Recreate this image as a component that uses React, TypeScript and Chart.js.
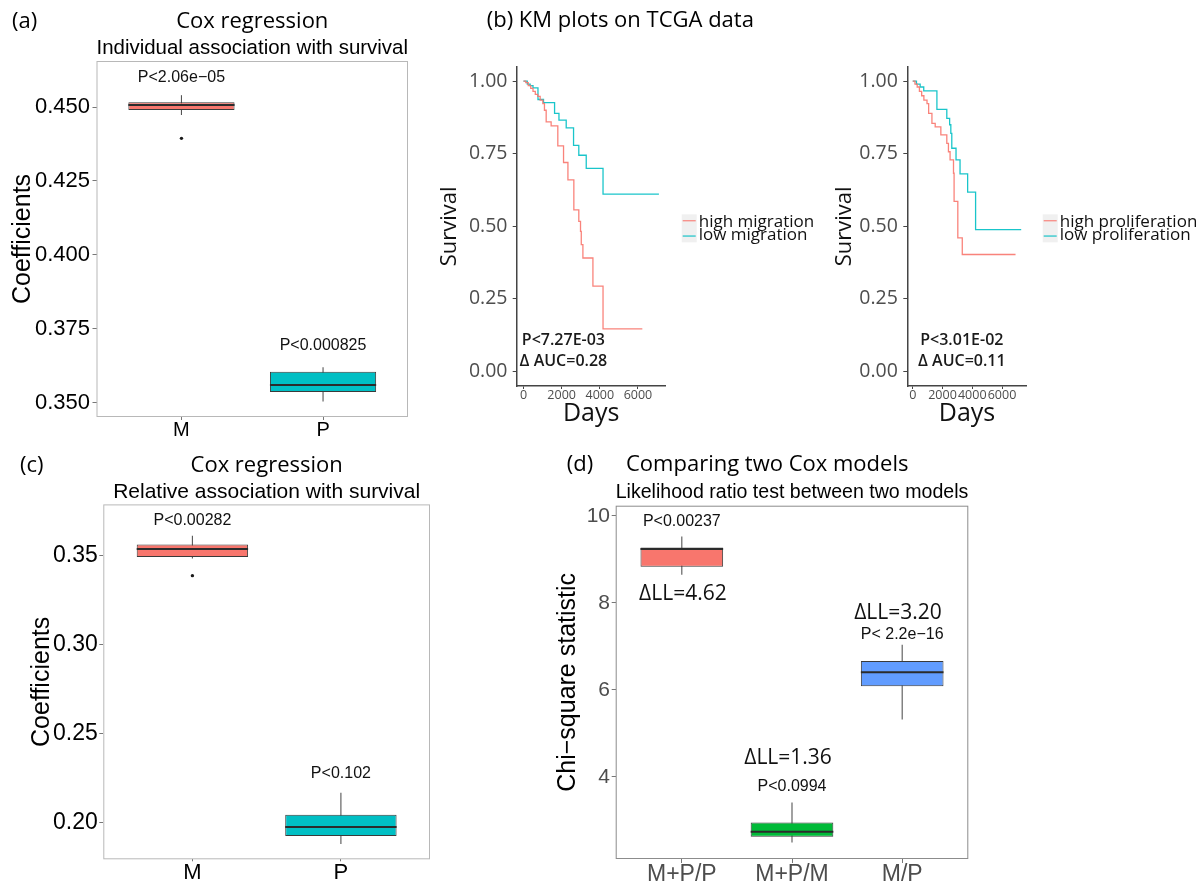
import React, { useEffect, useRef } from "react";
import { Chart, registerables } from "chart.js";

Chart.register(...registerables);

const SANS = "'Liberation Sans', Arial, sans-serif";
const HUMAN = "'Open Sans', 'Noto Sans', sans-serif";

const RED = "#F8766D";
const TEAL = "#00BFC4";
const GREEN = "#00BA38";
const BLUE = "#619CFF";

// ---------------- (a) Cox regression: individual association ----------------
const aCategories = ["M", "P"];
const aQ1 = [0.449, 0.3536];
const aMedian = [0.4507, 0.356];
const aQ3 = [0.4516, 0.3605];
const aWhiskerLow = [0.4473, 0.3504];
const aWhiskerHigh = [0.454, 0.362];
const aOutlierCat = ["M"];
const aOutlierVal = [0.4394];
const aYTicks = [0.35, 0.375, 0.4, 0.425, 0.45];
const aPText = ["P<2.06e\u221205", "P<0.000825"];
const aPY = [0.4584, 0.3678];

// ---------------- (c) Cox regression: relative association ----------------
const cCategories = ["M", "P"];
const cQ1 = [0.3493, 0.1923];
const cMedian = [0.3538, 0.1974];
const cQ3 = [0.3564, 0.2043];
const cWhiskerLow = [0.3485, 0.1878];
const cWhiskerHigh = [0.3612, 0.2167];
const cOutlierCat = ["M"];
const cOutlierVal = [0.3388];
const cYTicks = [0.2, 0.25, 0.3, 0.35];
const cPText = ["P<0.00282", "P<0.102"];
const cPY = [0.3673, 0.2249];

// ---------------- (d) Comparing two Cox models ----------------
const dCategories = ["M+P/P", "M+P/M", "M/P"];
const dQ1 = [8.83, 2.622, 6.085];
const dMedian = [9.243, 2.737, 6.406];
const dQ3 = [9.273, 2.952, 6.667];
const dWhiskerLow = [8.647, 2.493, 5.32];
const dWhiskerHigh = [9.525, 3.41, 7.04];
const dYTicks = [4, 6, 8, 10];
const dPText = ["P<0.00237", "P<0.0994", "P< 2.2e\u221216"];
const dPY = [9.77, 3.677, 7.179];
const dLLText = ["\u0394LL=4.62", "\u0394LL=1.36", "\u0394LL=3.20"];
const dLLX = [1.01, 1.964, 2.962];
const dLLY = [8.073, 4.289, 7.638];

// ---------------- (b) KM curves ----------------
const kmYTicks = [0, 0.25, 0.5, 0.75, 1];
const kmXTicks = [0, 2000, 4000, 6000];

const highMigT = [0, 120, 250, 380, 500, 620, 750, 875, 1015, 1100, 1190, 1450, 1800, 2100, 2330, 2640, 2900, 2990, 3030, 3115, 3640, 4170, 6230];
const highMigS = [1.0, 0.995, 0.985, 0.975, 0.965, 0.955, 0.948, 0.935, 0.923, 0.9, 0.86, 0.846, 0.777, 0.72, 0.66, 0.557, 0.517, 0.483, 0.437, 0.391, 0.294, 0.147, 0.147];
const lowMigT = [0, 200, 350, 500, 760, 1050, 1630, 1860, 2240, 2625, 2900, 3290, 4170, 7100];
const lowMigS = [1.0, 0.99, 0.985, 0.977, 0.937, 0.926, 0.889, 0.866, 0.839, 0.779, 0.745, 0.7, 0.611, 0.611];
const migAnnText = ["P<7.27E-03", "\u0394 AUC=0.28"];
const migAnnX = [2094, 2094];
const migAnnY = [0.09, 0.019];

const highProT = [0, 150, 300, 450, 600, 750, 960, 1070, 1290, 1510, 1890, 2290, 2400, 2510, 2740, 2780, 3030, 3330, 6910];
const highProS = [1.0, 0.99, 0.98, 0.965, 0.95, 0.935, 0.923, 0.889, 0.855, 0.843, 0.815, 0.786, 0.757, 0.729, 0.683, 0.586, 0.46, 0.403, 0.403];
const lowProT = [0, 250, 500, 740, 1625, 2290, 2480, 2560, 2625, 2910, 3180, 3690, 4225, 7290];
const lowProS = [1.0, 0.99, 0.98, 0.967, 0.903, 0.872, 0.85, 0.82, 0.769, 0.729, 0.681, 0.618, 0.489, 0.489];
const proAnnText = ["P<3.01E-02", "\u0394 AUC=0.11"];
const proAnnX = [3300, 3300];
const proAnnY = [0.09, 0.019];

// ---------------- helpers ----------------
type Ann = { text: string; x: number; y: number; font: string };
type Header = { text: string; x: number; y: number; font: string };

function headerPlugin(items: Header[]) {
  return {
    id: "headers",
    afterDraw(chart: any) {
      const ctx = chart.ctx;
      ctx.save();
      ctx.fillStyle = "#000";
      ctx.textAlign = "left";
      ctx.textBaseline = "alphabetic";
      items.forEach((it) => {
        ctx.font = it.font;
        ctx.fillText(it.text, it.x, it.y);
      });
      ctx.restore();
    },
  };
}

interface BoxSpec {
  categories: string[];
  q1: number[];
  median: number[];
  q3: number[];
  lo: number[];
  hi: number[];
  colors: string[];
  outCat: string[];
  outVal: number[];
  yMin: number;
  yMax: number;
  yTicks: number[];
  yDecimals: number;
  yTitle: string;
  yTitleSize: number;
  yTitlePad: number;
  yTickSize: number;
  yTickLen: number;
  yTickPad: number;
  yWidth: number;
  xTickSize: number;
  xTickLen: number;
  xTickPad: number;
  xHeight: number;
  tickColor: string;
  title?: string;
  titlePad?: any;
  subtitle: string;
  subtitleSize: number;
  subtitlePad: any;
  padding: any;
  frameColor: string;
  ann: Ann[];
  headers: Header[];
}

function makeBoxConfig(s: BoxSpec): any {
  const pos = s.categories.map((_, i) => i + 1);
  const extras = {
    id: "boxExtras",
    beforeDatasetsDraw(chart: any) {
      const { ctx } = chart;
      const x = chart.scales.x;
      const y = chart.scales.y;
      ctx.save();
      ctx.strokeStyle = "#555";
      ctx.lineWidth = 1.1;
      pos.forEach((p, i) => {
        const px = x.getPixelForValue(p);
        ctx.beginPath();
        ctx.moveTo(px, y.getPixelForValue(s.lo[i]));
        ctx.lineTo(px, y.getPixelForValue(s.hi[i]));
        ctx.stroke();
      });
      ctx.restore();
    },
    afterDatasetsDraw(chart: any) {
      const { ctx, chartArea: ca } = chart;
      const x = chart.scales.x;
      const y = chart.scales.y;
      ctx.save();
      const meta = chart.getDatasetMeta(0);
      meta.data.forEach((el: any, i: number) => {
        const { x: cx, width: w } = el.getProps(["x", "width"], true);
        const py = y.getPixelForValue(s.median[i]);
        ctx.strokeStyle = "#2b2b2b";
        ctx.lineWidth = 2;
        ctx.beginPath();
        ctx.moveTo(cx - w / 2, py);
        ctx.lineTo(cx + w / 2, py);
        ctx.stroke();
      });
      ctx.fillStyle = "#111";
      ctx.textAlign = "center";
      ctx.textBaseline = "alphabetic";
      s.ann.forEach((a) => {
        ctx.font = a.font;
        ctx.fillText(a.text, x.getPixelForValue(a.x), y.getPixelForValue(a.y));
      });
      ctx.strokeStyle = s.frameColor;
      ctx.lineWidth = 1;
      ctx.strokeRect(ca.left + 0.5, ca.top + 0.5, ca.right - ca.left - 1, ca.bottom - ca.top - 1);
      ctx.restore();
    },
  };

  return {
    type: "bar",
    data: {
      datasets: [
        {
          type: "bar",
          data: pos.map((p, i) => ({ x: p, y: [s.q1[i], s.q3[i]] })),
          backgroundColor: s.colors,
          borderColor: "#3a3a3a",
          borderWidth: 1,
          borderSkipped: false,
          categoryPercentage: 0.75,
          barPercentage: 1,
          order: 2,
        },
        {
          type: "scatter",
          data: s.outCat.map((c, i) => ({ x: s.categories.indexOf(c) + 1, y: s.outVal[i] })),
          pointRadius: 1.7,
          pointBackgroundColor: "#1a1a1a",
          pointBorderWidth: 0,
          order: 1,
        },
      ],
    },
    options: {
      responsive: false,
      animation: false,
      devicePixelRatio: 1,
      layout: { padding: s.padding },
      plugins: {
        legend: { display: false },
        tooltip: { enabled: false },
        title: {
          display: !!s.title,
          text: s.title || "",
          fullSize: false,
          color: "#000",
          font: { family: HUMAN, size: 22, weight: "normal" },
          padding: s.titlePad || 0,
        },
        subtitle: {
          display: true,
          text: s.subtitle,
          fullSize: false,
          color: "#000",
          font: { family: SANS, size: s.subtitleSize, weight: "normal" },
          padding: s.subtitlePad,
        },
      },
      scales: {
        x: {
          type: "linear",
          min: 0.4,
          max: s.categories.length + 0.6,
          offset: false,
          afterBuildTicks: (sc: any) => {
            sc.ticks = pos.map((v) => ({ value: v }));
          },
          afterFit: (sc: any) => {
            sc.height = s.xHeight;
          },
          ticks: {
            callback: (_v: any, i: number) => s.categories[i],
            color: s.tickColor,
            font: { family: SANS, size: s.xTickSize },
            padding: s.xTickPad,
            autoSkip: false,
            maxRotation: 0,
          },
          grid: { offset: false, drawOnChartArea: false, drawTicks: true, tickLength: s.xTickLen, color: "#777" },
          border: { display: false },
        },
        y: {
          type: "linear",
          min: s.yMin,
          max: s.yMax,
          afterBuildTicks: (sc: any) => {
            sc.ticks = s.yTicks.map((v) => ({ value: v }));
          },
          afterFit: (sc: any) => {
            sc.width = s.yWidth;
          },
          ticks: {
            callback: (v: any) => Number(v).toFixed(s.yDecimals),
            color: s.tickColor,
            font: { family: SANS, size: s.yTickSize },
            padding: s.yTickPad,
            autoSkip: false,
          },
          grid: { drawOnChartArea: false, drawTicks: true, tickLength: s.yTickLen, color: "#777" },
          border: { display: false },
          title: {
            display: true,
            text: s.yTitle,
            color: "#000",
            font: { family: SANS, size: s.yTitleSize },
            padding: { top: s.yTitlePad, bottom: 0 },
          },
        },
      },
    },
    plugins: [extras, headerPlugin(s.headers)],
  };
}

interface KMSpec {
  series: { label: string; t: number[]; s: number[]; color: string }[];
  xMin: number;
  xMax: number;
  padRight: number;
  yWidth: number;
  yTitlePad: number;
  yTickPad: number;
  ann: Ann[];
  headers: Header[];
}

function makeKMConfig(k: KMSpec): any {
  const extras = {
    id: "kmExtras",
    afterDraw(chart: any) {
      const { ctx, chartArea: ca } = chart;
      const x = chart.scales.x;
      const y = chart.scales.y;
      ctx.save();
      ctx.fillStyle = "#1a1a1a";
      ctx.textAlign = "center";
      ctx.textBaseline = "alphabetic";
      k.ann.forEach((a) => {
        ctx.font = a.font;
        ctx.fillText(a.text, x.getPixelForValue(a.x), y.getPixelForValue(a.y));
      });
      // legend
      const mid = (ca.top + ca.bottom) / 2;
      const kx = ca.right + 16;
      ctx.fillStyle = "#f0f0f0";
      ctx.fillRect(kx, mid - 12, 15, 28);
      k.series.forEach((ser, i) => {
        const ly = mid - 5.6 + i * 15.3;
        ctx.strokeStyle = ser.color;
        ctx.lineWidth = 1.2;
        ctx.beginPath();
        ctx.moveTo(kx + 1, ly);
        ctx.lineTo(kx + 14, ly);
        ctx.stroke();
      });
      ctx.fillStyle = "#111";
      ctx.textAlign = "left";
      ctx.font = `normal 17px ${HUMAN}`;
      k.series.forEach((ser, i) => {
        ctx.fillText(ser.label, kx + 17, mid + 0.4 + i * 13.3);
      });
      ctx.restore();
    },
  };
  return {
    type: "line",
    data: {
      datasets: k.series.map((ser) => ({
        label: ser.label,
        data: ser.t.map((t, i) => ({ x: t, y: ser.s[i] })),
        borderColor: ser.color,
        borderWidth: 1.3,
        stepped: true,
        pointRadius: 0,
        fill: false,
      })),
    },
    options: {
      responsive: false,
      animation: false,
      devicePixelRatio: 1,
      layout: { padding: { top: 66.7, left: 0, right: k.padRight, bottom: 0 } },
      plugins: { legend: { display: false }, tooltip: { enabled: false } },
      scales: {
        x: {
          type: "linear",
          min: k.xMin,
          max: k.xMax,
          afterBuildTicks: (sc: any) => {
            sc.ticks = kmXTicks.map((v) => ({ value: v }));
          },
          afterFit: (sc: any) => {
            sc.height = 54;
          },
          ticks: {
            callback: (v: any) => String(v),
            color: "#4d4d4d",
            font: { family: HUMAN, size: 12.5 },
            padding: -1,
            autoSkip: false,
            maxRotation: 0,
          },
          grid: { drawOnChartArea: false, drawTicks: true, tickLength: 3, color: "#444" },
          border: { display: true, color: "#444", width: 1.5 },
          title: {
            display: true,
            text: "Days",
            color: "#111",
            font: { family: HUMAN, size: 25 },
            padding: { top: 0, bottom: 11.5 },
          },
        },
        y: {
          type: "linear",
          min: -0.05,
          max: 1.05,
          afterBuildTicks: (sc: any) => {
            sc.ticks = kmYTicks.map((v) => ({ value: v }));
          },
          afterFit: (sc: any) => {
            sc.width = k.yWidth;
          },
          ticks: {
            callback: (v: any) => Number(v).toFixed(2),
            color: "#4d4d4d",
            font: { family: HUMAN, size: 19.5 },
            padding: k.yTickPad,
            autoSkip: false,
          },
          grid: { drawOnChartArea: false, drawTicks: true, tickLength: 4, color: "#444" },
          border: { display: true, color: "#444", width: 1.5 },
          title: {
            display: true,
            text: "Survival",
            color: "#111",
            font: { family: HUMAN, size: 22 },
            padding: { top: k.yTitlePad, bottom: 0 },
          },
        },
      },
    },
    plugins: [extras, headerPlugin(k.headers)],
  };
}

function ChartCanvas(props: { left: number; top: number; width: number; height: number; make: () => any }) {
  const ref = useRef<HTMLCanvasElement>(null);
  useEffect(() => {
    const chart = new Chart(ref.current as HTMLCanvasElement, props.make());
    return () => chart.destroy();
  }, []);
  return (
    <canvas
      ref={ref}
      width={props.width}
      height={props.height}
      style={{ position: "absolute", left: props.left, top: props.top, width: props.width, height: props.height, display: "block" }}
    />
  );
}

const pFont = `normal 16px ${SANS}`;
const headFont = `normal 22px ${HUMAN}`;

const specA: BoxSpec = {
  categories: aCategories,
  q1: aQ1,
  median: aMedian,
  q3: aQ3,
  lo: aWhiskerLow,
  hi: aWhiskerHigh,
  colors: [RED, TEAL],
  outCat: aOutlierCat,
  outVal: aOutlierVal,
  yMin: 0.34516,
  yMax: 0.46556,
  yTicks: aYTicks,
  yDecimals: 3,
  yTitle: "Coefficients",
  yTitleSize: 25,
  yTitlePad: 8,
  yTickSize: 22,
  yTickLen: 4,
  yTickPad: 2.5,
  yWidth: 96.5,
  xTickSize: 20,
  xTickLen: 3,
  xTickPad: -2,
  xHeight: 23,
  tickColor: "#000",
  title: "Cox regression",
  titlePad: { top: 8.5, bottom: 0 },
  subtitle: "Individual association with survival",
  subtitleSize: 20.5,
  subtitlePad: { top: 1.4, bottom: 0.1 },
  padding: { left: 0, top: 0, right: 12, bottom: 0 },
  frameColor: "#b8b8b8",
  ann: aPText.map((t, i) => ({ text: t, x: i + 1, y: aPY[i], font: pFont })),
  headers: [{ text: "(a)", x: 12, y: 28, font: headFont }],
};

const specC: BoxSpec = {
  categories: cCategories,
  q1: cQ1,
  median: cMedian,
  q3: cQ3,
  lo: cWhiskerLow,
  hi: cWhiskerHigh,
  colors: [RED, TEAL],
  outCat: cOutlierCat,
  outVal: cOutlierVal,
  yMin: 0.1792,
  yMax: 0.3789,
  yTicks: cYTicks,
  yDecimals: 2,
  yTitle: "Coefficients",
  yTitleSize: 25,
  yTitlePad: 26.7,
  yTickSize: 23,
  yTickLen: 4,
  yTickPad: 1.5,
  yWidth: 103.3,
  xTickSize: 22,
  xTickLen: 2,
  xTickPad: -2,
  xHeight: 22.7,
  tickColor: "#000",
  title: "Cox regression",
  titlePad: { top: 12.2, bottom: 0 },
  subtitle: "Relative association with survival",
  subtitleSize: 21,
  subtitlePad: { top: 0.6, bottom: 0 },
  padding: { left: 0, top: 0, right: 10, bottom: 0 },
  frameColor: "#b8b8b8",
  ann: cPText.map((t, i) => ({ text: t, x: i + 1, y: cPY[i], font: pFont })),
  headers: [{ text: "(c)", x: 20, y: 32, font: headFont }],
};

const specD: BoxSpec = {
  categories: dCategories,
  q1: dQ1,
  median: dMedian,
  q3: dQ3,
  lo: dWhiskerLow,
  hi: dWhiskerHigh,
  colors: [RED, GREEN, BLUE],
  outCat: [],
  outVal: [],
  yMin: 2.112,
  yMax: 10.236,
  yTicks: dYTicks,
  yDecimals: 0,
  yTitle: "Chi\u2212square statistic",
  yTitleSize: 25,
  yTitlePad: 33,
  yTickSize: 21,
  yTickLen: 4,
  yTickPad: 1.7,
  yWidth: 95.7,
  xTickSize: 23,
  xTickLen: 4,
  xTickPad: -2.6,
  xHeight: 23,
  tickColor: "#4d4d4d",
  subtitle: "Likelihood ratio test between two models",
  subtitleSize: 20,
  subtitlePad: { top: 10.1, bottom: 1.6 },
  padding: { left: 0, top: 30, right: 227.7, bottom: 0 },
  frameColor: "#8c8c8c",
  ann: [
    ...dPText.map((t, i) => ({ text: t, x: i + 1, y: dPY[i], font: pFont })),
    ...dLLText.map((t, i) => ({ text: t, x: dLLX[i], y: dLLY[i], font: `normal 21px ${HUMAN}` })),
  ],
  headers: [
    { text: "(d)", x: 46.7, y: 30.7, font: headFont },
    { text: "Comparing two Cox models", x: 106, y: 30.7, font: headFont },
  ],
};

const kmAnnFont = `600 16px ${HUMAN}`;

const specB1: KMSpec = {
  series: [
    { label: "high migration", t: highMigT, s: highMigS, color: "rgba(248,118,109,0.9)" },
    { label: "low migration", t: lowMigT, s: lowMigS, color: "rgba(0,191,196,0.9)" },
  ],
  xMin: -355,
  xMax: 7455,
  padRight: 174.3,
  yWidth: 96.7,
  yTitlePad: 16.8,
  yTickPad: 5.2,
  ann: migAnnText.map((t, i) => ({ text: t, x: migAnnX[i], y: migAnnY[i], font: kmAnnFont })),
  headers: [{ text: "(b) KM plots on TCGA data", x: 66.7, y: 26.7, font: headFont }],
};

const specB2: KMSpec = {
  series: [
    { label: "high proliferation", t: highProT, s: highProS, color: "rgba(248,118,109,0.9)" },
    { label: "low proliferation", t: lowProT, s: lowProS, color: "rgba(0,191,196,0.9)" },
  ],
  xMin: -365,
  xMax: 7660,
  padRight: 169.3,
  yWidth: 87.3,
  yTitlePad: 11.8,
  yTickPad: 5.5,
  ann: proAnnText.map((t, i) => ({ text: t, x: proAnnX[i], y: proAnnY[i], font: kmAnnFont })),
  headers: [],
};

export default function App() {
  return (
    <div style={{ position: "fixed", left: 0, top: 0, width: 1196, height: 882, background: "#fff", overflow: "hidden" }}>
      <ChartCanvas left={0} top={0} width={420} height={440} make={() => makeBoxConfig(specA)} />
      <ChartCanvas left={420} top={0} width={420} height={440} make={() => makeKMConfig(specB1)} />
      <ChartCanvas left={820} top={0} width={376} height={440} make={() => makeKMConfig(specB2)} />
      <ChartCanvas left={0} top={440} width={440} height={442} make={() => makeBoxConfig(specC)} />
      <ChartCanvas left={520} top={440} width={676} height={442} make={() => makeBoxConfig(specD)} />
    </div>
  );
}
